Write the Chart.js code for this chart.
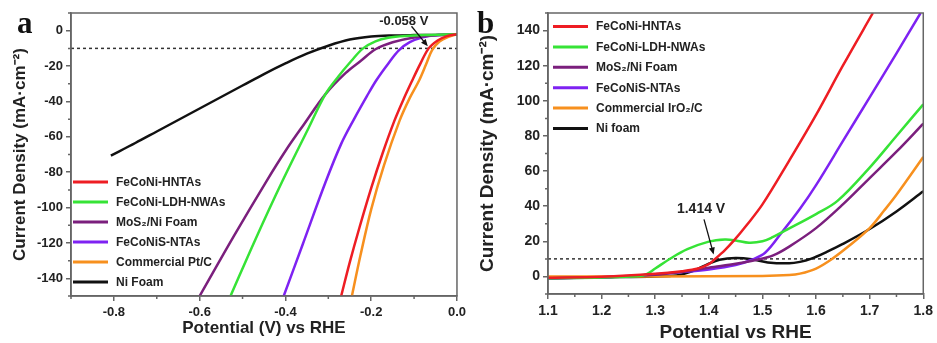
<!DOCTYPE html>
<html lang="en">
<head>
  <meta charset="UTF-8">
  <title>HER / OER polarization curves</title>
  <script src="https://cdn.jsdelivr.net/npm/chart.js"></script>
  <style>
    body { margin: 0; background: #fff; }
    #wrap { position: relative; width: 937px; height: 343px; }
    canvas { position: absolute; top: 0; }
  </style>
</head>
<body>
  <div id="wrap">
    <canvas id="chartA" width="470" height="343" style="left:0"></canvas>
    <canvas id="chartB" width="467" height="343" style="left:470px"></canvas>
  </div>

  <script>
    // ---- panel a: HER, potential (V) vs current density, [x, y] pairs
    const herHNTAs = [[-0.27,-150],[-0.25,-131],[-0.227,-111],[-0.2,-89],[-0.173,-69],[-0.146,-51],[-0.125,-39],[-0.104,-28],[-0.085,-18.5],[-0.066,-10],[-0.045,-5.5],[-0.025,-3.2],[0,-2]];
    const herLDH = [[-0.528,-150],[-0.47,-118],[-0.407,-85],[-0.346,-55],[-0.307,-36],[-0.277,-26],[-0.246,-17],[-0.219,-10],[-0.19,-6],[-0.16,-4],[-0.12,-3],[-0.06,-2.4],[0,-2]];
    const herMoS2 = [[-0.6,-150],[-0.52,-116],[-0.444,-85],[-0.4,-68],[-0.357,-53],[-0.307,-36],[-0.26,-24],[-0.224,-17],[-0.19,-10.5],[-0.15,-6.5],[-0.1,-3.8],[-0.05,-2.6],[0,-2]];
    const herNTAs = [[-0.404,-150],[-0.36,-121],[-0.307,-86],[-0.27,-64],[-0.24,-50],[-0.21,-37],[-0.188,-28],[-0.16,-18.5],[-0.135,-11],[-0.11,-6.5],[-0.08,-3.8],[-0.05,-2.6],[0,-2]];
    const herPtC = [[-0.245,-150],[-0.225,-127],[-0.2,-101],[-0.17,-76],[-0.134,-51],[-0.11,-38],[-0.088,-28],[-0.072,-19],[-0.058,-11],[-0.04,-6],[-0.02,-3.5],[0,-2]];
    const herNiFoam = [[-0.807,-70.6],[-0.75,-63.5],[-0.7,-57],[-0.65,-50.5],[-0.6,-44],[-0.55,-37.5],[-0.5,-31],[-0.45,-24.5],[-0.4,-18.5],[-0.35,-13],[-0.3,-8.5],[-0.25,-5],[-0.2,-3.3],[-0.15,-2.7],[-0.1,-2.5],[0,-2.3]];
    const herLabels = ['FeCoNi-HNTAs', 'FeCoNi-LDH-NWAs', 'MoS\u2082/Ni Foam', 'FeCoNiS-NTAs', 'Commercial Pt/C', 'Ni Foam'];
    const xTicksA = [-0.8, -0.6, -0.4, -0.2, 0];
    const xMinorA = [-0.9, -0.7, -0.5, -0.3, -0.1];
    const yTicksA = [-140, -120, -100, -80, -60, -40, -20, 0];
    const yMinorA = [-150, -130, -110, -90, -70, -50, -30, -10, 10];
    const refLevelA = -10;

    // ---- panel b: OER
    const oerHNTAs = [[1.1,-0.8],[1.2,-0.2],[1.3,1.5],[1.35,3],[1.38,4.5],[1.4,7],[1.41,9.5],[1.43,15],[1.447,20.5],[1.47,29],[1.5,41],[1.55,66],[1.6,92],[1.65,120],[1.706,150]];
    const oerLDH = [[1.1,-1],[1.2,-0.6],[1.27,0.2],[1.285,1.5],[1.3,4.5],[1.33,10.5],[1.36,15.5],[1.4,19.8],[1.43,21],[1.45,20.5],[1.475,19.2],[1.5,20],[1.52,22.5],[1.545,26.5],[1.6,35.5],[1.64,43],[1.7,62],[1.75,80],[1.8,98]];
    const oerMoS2 = [[1.1,-1],[1.2,-0.5],[1.3,1],[1.35,2.5],[1.4,5],[1.45,7.2],[1.49,9.5],[1.52,12],[1.55,17],[1.6,27.5],[1.65,41],[1.7,56],[1.75,71],[1.8,87]];
    const oerNTAs = [[1.1,-1],[1.2,-0.5],[1.3,1.2],[1.35,2.5],[1.4,4],[1.45,6.5],[1.48,9.5],[1.505,13.5],[1.536,25],[1.57,38.5],[1.6,52],[1.65,77],[1.7,102],[1.75,127],[1.795,150]];
    const oerIrO2 = [[1.1,0],[1.3,0],[1.5,0.3],[1.55,0.8],[1.57,1.6],[1.6,4.5],[1.63,10],[1.66,17],[1.7,27.5],[1.727,37.5],[1.75,46.5],[1.8,68]];
    const oerNiFoam = [[1.1,-1],[1.2,-0.5],[1.3,0],[1.34,0.6],[1.37,3],[1.4,7.3],[1.42,9.5],[1.45,10.5],[1.48,9.8],[1.51,8],[1.55,7.5],[1.57,8.3],[1.59,10],[1.62,14],[1.65,18.5],[1.7,27],[1.75,37],[1.8,48.5]];
    const oerLabels = ['FeCoNi-HNTAs', 'FeCoNi-LDH-NWAs', 'MoS\u2082/Ni Foam', 'FeCoNiS-NTAs', 'Commercial IrO\u2082/C', 'Ni foam'];
    const xTicksB = [1.1, 1.2, 1.3, 1.4, 1.5, 1.6, 1.7, 1.8];
    const xMinorB = [1.15, 1.25, 1.35, 1.45, 1.55, 1.65, 1.75];
    const yTicksB = [0, 20, 40, 60, 80, 100, 120, 140];
    const yMinorB = [-10, 10, 30, 50, 70, 90, 110, 130, 150];
    const refLevelB = 10;

    const colors = ['#ee1d23', '#36e336', '#7b1f7d', '#7e22f2', '#f7901e', '#111111'];
    const FONT = "'Liberation Sans', Arial, sans-serif";
    const AXIS = '#666';
    const TEXT = '#222';

    const toXY = arr => arr.map(p => ({ x: p[0], y: p[1] }));

    function makeDatasets(series, labels, refLevel, xMin, xMax) {
      const sets = series.map((s, i) => ({
        label: labels[i],
        data: toXY(s),
        borderColor: colors[i],
        borderWidth: 2.5,
        pointRadius: 0,
        fill: false,
        tension: 0.35
      }));
      sets.push({
        label: 'ref',
        isRef: true,
        data: [{ x: xMin, y: refLevel }, { x: xMax, y: refLevel }],
        borderColor: '#333',
        borderWidth: 1.5,
        borderDash: [3, 3],
        pointRadius: 0
      });
      return sets;
    }

    // frame, minor ticks, in-plot legend, annotation arrow and panel letter
    const extras = {
      id: 'extras',
      afterDraw(chart, args, o) {
        const { ctx, chartArea: a, scales: { x, y } } = chart;
        ctx.save();
        ctx.strokeStyle = AXIS;
        ctx.lineWidth = 1.5;
        ctx.strokeRect(a.left, a.top, a.right - a.left, a.bottom - a.top);
        ctx.beginPath();
        o.minorX.forEach(v => { const p = x.getPixelForValue(v); ctx.moveTo(p, a.bottom); ctx.lineTo(p, a.bottom + 3); });
        o.minorY.forEach(v => { const p = y.getPixelForValue(v); ctx.moveTo(a.left, p); ctx.lineTo(a.left - 3, p); });
        ctx.stroke();

        // legend
        ctx.font = 'bold 12px ' + FONT;
        ctx.textBaseline = 'middle';
        ctx.textAlign = 'left';
        chart.data.datasets.filter(d => !d.isRef).forEach((d, i) => {
          const ly = o.legendTop + i * o.legendStep;
          ctx.strokeStyle = d.borderColor;
          ctx.lineWidth = 3;
          ctx.beginPath();
          ctx.moveTo(o.legendX, ly);
          ctx.lineTo(o.legendX + 35, ly);
          ctx.stroke();
          ctx.fillStyle = TEXT;
          ctx.fillText(d.label, o.legendX + 43, ly + 0.5);
        });

        // annotation
        const n = o.note;
        ctx.fillStyle = TEXT;
        ctx.font = 'bold ' + n.size + 'px ' + FONT;
        ctx.textAlign = 'center';
        ctx.fillText(n.text, x.getPixelForValue(n.tx), y.getPixelForValue(n.ty));
        const x1 = x.getPixelForValue(n.fromX), y1 = y.getPixelForValue(n.fromY);
        const x2 = x.getPixelForValue(n.toX), y2 = y.getPixelForValue(n.toY);
        const ang = Math.atan2(y2 - y1, x2 - x1);
        ctx.strokeStyle = '#111';
        ctx.lineWidth = 1.3;
        ctx.beginPath();
        ctx.moveTo(x1, y1);
        ctx.lineTo(x2 - 5 * Math.cos(ang), y2 - 5 * Math.sin(ang));
        ctx.stroke();
        ctx.fillStyle = '#111';
        ctx.beginPath();
        ctx.moveTo(x2, y2);
        ctx.lineTo(x2 - 7 * Math.cos(ang) + 3 * Math.sin(ang), y2 - 7 * Math.sin(ang) - 3 * Math.cos(ang));
        ctx.lineTo(x2 - 7 * Math.cos(ang) - 3 * Math.sin(ang), y2 - 7 * Math.sin(ang) + 3 * Math.cos(ang));
        ctx.closePath();
        ctx.fill();

        // panel letter
        ctx.font = "bold 31px 'Liberation Serif', 'Times New Roman', serif";
        ctx.textAlign = 'left';
        ctx.textBaseline = 'alphabetic';
        ctx.fillStyle = '#111';
        ctx.fillText(o.letter, o.letterX, 33);
        ctx.restore();
      }
    };

    function axis(min, max, ticks, fmt, size, fitSize, horizontal, title, titleSize, titlePad) {
      return {
        type: 'linear',
        min, max,
        afterBuildTicks: s => { s.ticks = ticks.map(v => ({ value: v })); },
        afterFit: s => { if (horizontal) s.height = fitSize; else s.width = fitSize; },
        ticks: {
          autoSkip: false,
          maxRotation: 0,
          color: TEXT,
          padding: horizontal ? 4 : 3,
          font: { family: FONT, size, weight: 'bold' },
          callback: fmt
        },
        grid: { drawOnChartArea: false, color: AXIS, lineWidth: 1.5, tickLength: 5 },
        border: { color: AXIS, width: 1.5 },
        title: {
          display: true,
          text: title,
          color: TEXT,
          font: { family: FONT, size: titleSize, weight: 'bold', lineHeight: 1 },
          padding: titlePad
        }
      };
    }

    new Chart(document.getElementById('chartA'), {
      type: 'line',
      data: { datasets: makeDatasets([herHNTAs, herLDH, herMoS2, herNTAs, herPtC, herNiFoam], herLabels, refLevelA, -0.9, 0) },
      options: {
        responsive: false,
        animation: false,
        layout: { padding: { left: 0, right: 10, top: 13, bottom: 0 } },
        plugins: {
          legend: { display: false },
          tooltip: { enabled: false },
          extras: {
            minorX: xMinorA, minorY: yMinorA,
            legendX: 73, legendTop: 182, legendStep: 20,
            letter: 'a', letterX: 17,
            note: { text: '-0.058 V', size: 13, tx: -0.124, ty: 5, fromX: -0.106, fromY: 2.5, toX: -0.068, toY: -8.8 }
          }
        },
        scales: {
          x: axis(-0.9, 0, xTicksA, v => Number(v).toFixed(1), 13, 47, true, 'Potential (V) vs RHE', 17, { top: 0, bottom: 6.5 }),
          y: axis(-150, 10, yTicksA, v => v, 13, 71, false, 'Current Density (mA\u00b7cm\u207b\u00b2)', 17, { top: 11.5, bottom: 0 })
        }
      },
      plugins: [extras]
    });

    new Chart(document.getElementById('chartB'), {
      type: 'line',
      data: { datasets: makeDatasets([oerHNTAs, oerLDH, oerMoS2, oerNTAs, oerIrO2, oerNiFoam], oerLabels, refLevelB, 1.1, 1.8) },
      options: {
        responsive: false,
        animation: false,
        layout: { padding: { left: 0, right: 11, top: 13, bottom: 0 } },
        plugins: {
          legend: { display: false },
          tooltip: { enabled: false },
          extras: {
            minorX: xMinorB, minorY: yMinorB,
            legendX: 83, legendTop: 26.5, legendStep: 20.4,
            letter: 'b', letterX: 7,
            note: { text: '1.414 V', size: 14, tx: 1.3855, ty: 38.4, fromX: 1.391, fromY: 32.5, toX: 1.409, toY: 12.5 }
          }
        },
        scales: {
          x: axis(1.1, 1.8, xTicksB, v => Number(v).toFixed(1), 14, 49, true, 'Potential vs RHE', 19, { top: 0, bottom: 0.5 }),
          y: axis(-10, 150, yTicksB, v => v, 14, 78, false, 'Current Density (mA\u00b7cm\u207b\u00b2)', 19, { top: 8.5, bottom: 0 })
        }
      },
      plugins: [extras]
    });
  </script>
</body>
</html>
